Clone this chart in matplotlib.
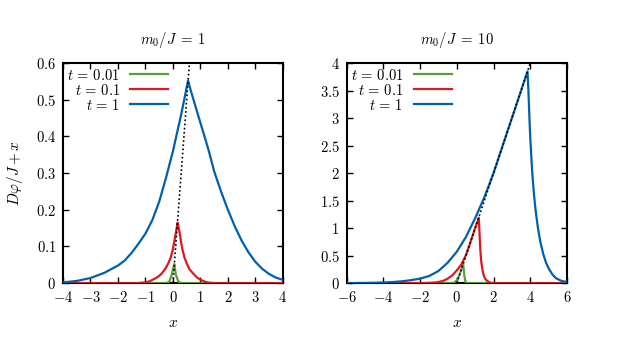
import matplotlib
matplotlib.use('Agg')
import matplotlib.pyplot as plt

plt.rcParams['mathtext.fontset'] = 'cm'
plt.rcParams['font.family'] = 'serif'
plt.rcParams['font.serif'] = ['DejaVu Serif']

# m0/J = 1
a_x_001 = [-4, -0.25, -0.13, -0.05, 0.0, 0.05, 0.08, 0.11, 0.2, 0.3, 4]
a_y_001 = [0, 0, 0.004, 0.022, 0.038, 0.052, 0.036, 0.022, 0.004, 0, 0]
a_x_01 = [-4, -1.3, -1.02, -0.85, -0.72, -0.55, -0.41, -0.28, -0.17, -0.08, -0.01, 0.07, 0.17,
          0.21, 0.25, 0.3, 0.35, 0.42, 0.5, 0.6, 0.74, 0.88, 1.04, 1.2, 1.35, 1.6, 4]
a_y_01 = [0, 0, 0.002, 0.005, 0.01, 0.017, 0.026, 0.039, 0.054, 0.07, 0.09, 0.122, 0.165,
          0.15, 0.135, 0.11, 0.09, 0.07, 0.054, 0.038, 0.026, 0.015, 0.008, 0.003, 0.001, 0, 0]
a_x_1 = [-4, -3.5, -3, -2.5, -2, -1.75, -1.5, -1.25, -1, -0.75, -0.5, -0.25, 0, 0.15, 0.3, 0.45, 0.55,
         0.65, 0.75, 0.9, 1.0, 1.15, 1.3, 1.5, 1.75, 2.0, 2.25, 2.5, 2.75, 3.0, 3.25, 3.5, 3.75, 4.0]
a_y_1 = [0.002, 0.006, 0.014, 0.028, 0.048, 0.062, 0.083, 0.108, 0.135, 0.172, 0.222, 0.288, 0.36, 0.41, 0.46, 0.515, 0.553,
         0.525, 0.5, 0.462, 0.437, 0.4, 0.362, 0.305, 0.25, 0.2, 0.155, 0.116, 0.084, 0.058, 0.039, 0.025, 0.015, 0.009]
a_diag = [0, 0.62]

# m0/J = 10
b_x_001 = [-6, -0.3, -0.15, 0, 0.15, 0.25, 0.345, 0.38, 0.42, 0.46, 0.5, 0.55, 6]
b_y_001 = [0, 0, 0.01, 0.05, 0.15, 0.25, 0.355, 0.25, 0.12, 0.05, 0.01, 0, 0]
b_x_01 = [-6, -2, -1.5, -1.25, -1, -0.75, -0.5, -0.25, 0, 0.25, 0.5, 0.75, 1.0, 1.2,
          1.24, 1.28, 1.33, 1.4, 1.47, 1.55, 1.65, 1.82, 2.0, 6]
b_y_01 = [0, 0, 0.005, 0.01, 0.02, 0.04, 0.08, 0.14, 0.23, 0.34, 0.51, 0.75, 1.0, 1.19,
          0.9, 0.62, 0.4, 0.24, 0.14, 0.08, 0.04, 0.01, 0, 0]
b_x_1 = [-6, -5, -4, -3.5, -3, -2.5, -2, -1.5, -1, -0.5, 0, 0.5, 1.0, 1.5, 2.0, 2.5, 3.0, 3.5, 3.85,
         3.9, 3.95, 4.0, 4.1, 4.2, 4.3, 4.42, 4.55, 4.7, 4.85, 5.0, 5.2, 5.4, 5.7, 6.0]
b_y_1 = [0.001, 0.003, 0.011, 0.02, 0.033, 0.054, 0.082, 0.13, 0.22, 0.37, 0.57, 0.84, 1.18, 1.56, 2.0, 2.5, 3.0, 3.5, 3.85,
         3.5, 3.05, 2.65, 2.05, 1.62, 1.3, 1.0, 0.75, 0.54, 0.38, 0.27, 0.16, 0.09, 0.04, 0.02]
b_diag = [0, 4.0]

labels = [r'$t\,=\,0.01$', r'$t\,=\,0.1$', r'$t\,=\,1$']
colors = ['#5e9c36', '#dd181f', '#0060ad']

fig = plt.figure(figsize=(6.3, 3.47), dpi=100)
ax1 = fig.add_axes([0.1, 0.184, 0.349, 0.634])
ax2 = fig.add_axes([0.55, 0.184, 0.35, 0.634])

panels = [
    (ax1, [(a_x_001, a_y_001), (a_x_01, a_y_01), (a_x_1, a_y_1)], a_diag,
     (-4, 4), (0, 0.6), list(range(-4, 5)), [0, 0.1, 0.2, 0.3, 0.4, 0.5, 0.6], r'$m_0/J\;=\;1$'),
    (ax2, [(b_x_001, b_y_001), (b_x_01, b_y_01), (b_x_1, b_y_1)], b_diag,
     (-6, 6), (0, 4), list(range(-6, 7, 2)), [0, 0.5, 1, 1.5, 2, 2.5, 3, 3.5, 4], r'$m_0/J\;=\;10$'),
]

for ax, curves, diag, xl, yl, xt, yt, title in panels:
    for (xs, ys), lab, c in zip(curves, labels, colors):
        ax.plot(xs, ys, color=c, lw=1.6, label=lab, zorder=3)
    ax.plot(diag, diag, color='black', lw=1.2, ls=(0, (1, 1.5)), zorder=4)
    ax.set_xlim(*xl)
    ax.set_ylim(*yl)
    ax.set_xticks(xt)
    ax.set_xticklabels(['$%g$' % v for v in xt])
    ax.set_yticks(yt)
    ax.set_yticklabels(['$%g$' % v for v in yt])
    ax.tick_params(direction='in', length=4, width=1, top=True, right=True,
                   labelsize=10.5, pad=5)
    for s in ax.spines.values():
        s.set_linewidth(1.5)
    ax.set_title(title, fontsize=10.5, pad=14)
    ax.set_xlabel('$x$', fontsize=11, labelpad=8)
    ax.legend(loc='upper left', frameon=False, markerfirst=False, fontsize=10.5,
              handlelength=2.6, labelspacing=0.0, handletextpad=0.7,
              borderaxespad=0.1, borderpad=0.2)

ax1.set_ylabel(r'$D\varphi/J + x$', fontsize=11, labelpad=8)

fig.savefig('out.png', dpi=100)
